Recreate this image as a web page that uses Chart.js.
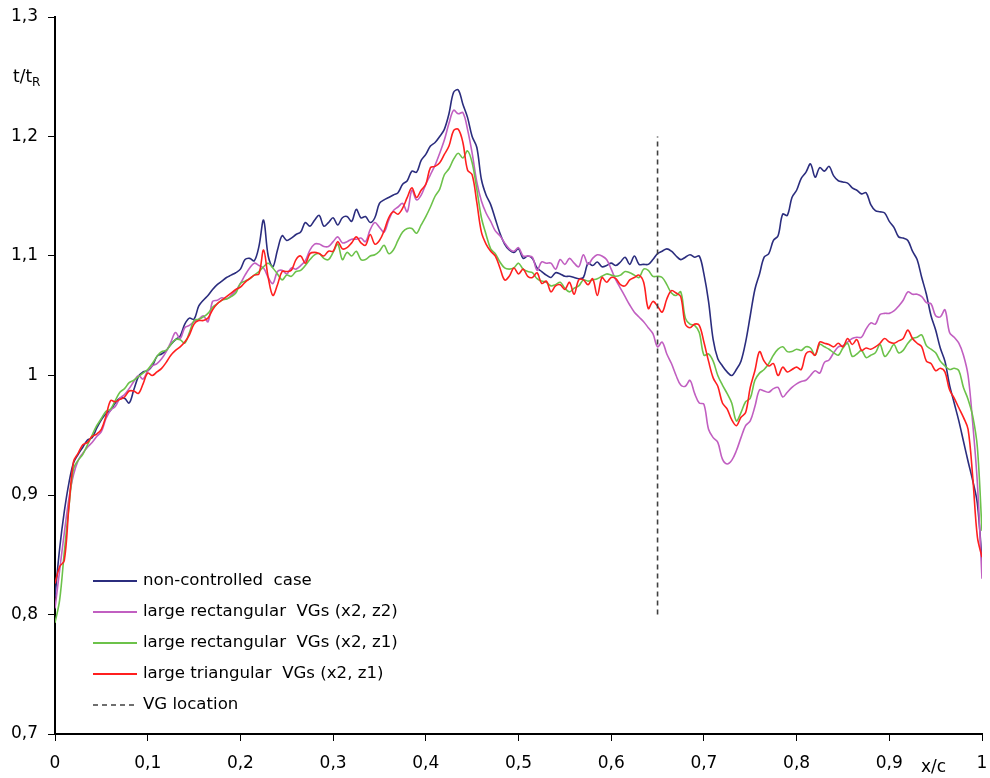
<!DOCTYPE html>
<html>
<head>
<meta charset="utf-8">
<script src="https://cdn.jsdelivr.net/npm/chart.js@4/dist/chart.umd.min.js"></script>
<style>
html,body{margin:0;padding:0;background:#fff;}
#wrap{width:990px;height:778px;}
</style>
</head>
<body>
<div id="wrap"><canvas id="c" width="990" height="778"></canvas></div>
<script>
// x/c positions (chord fraction)
const X_C = [0,0.005,0.01,0.015,0.02,0.025,0.03,0.035,0.04,0.045,0.05,0.055,0.06,0.065,0.07,0.075,0.08,0.085,0.09,0.095,
0.1,0.105,0.11,0.115,0.12,0.125,0.13,0.135,0.14,0.145,0.15,0.155,0.16,0.165,0.17,0.175,0.18,0.185,0.19,0.195,
0.2,0.205,0.21,0.215,0.22,0.225,0.23,0.235,0.24,0.245,0.25,0.255,0.26,0.265,0.27,0.275,0.28,0.285,0.29,0.295,
0.3,0.305,0.31,0.315,0.32,0.325,0.33,0.335,0.34,0.345,0.35,0.355,0.36,0.365,0.37,0.375,0.38,0.385,0.39,0.395,
0.4,0.405,0.41,0.415,0.42,0.425,0.43,0.435,0.44,0.445,0.45,0.455,0.46,0.465,0.47,0.475,0.48,0.485,0.49,0.495,
0.5,0.505,0.51,0.515,0.52,0.525,0.53,0.535,0.54,0.545,0.55,0.555,0.56,0.565,0.57,0.575,0.58,0.585,0.59,0.595,
0.6,0.605,0.61,0.615,0.62,0.625,0.63,0.635,0.64,0.645,0.65,0.655,0.66,0.665,0.67,0.675,0.68,0.685,0.69,0.695,
0.7,0.705,0.71,0.715,0.72,0.725,0.73,0.735,0.74,0.745,0.75,0.755,0.76,0.765,0.77,0.775,0.78,0.785,0.79,0.795,
0.8,0.805,0.81,0.815,0.82,0.825,0.83,0.835,0.84,0.845,0.85,0.855,0.86,0.865,0.87,0.875,0.88,0.885,0.89,0.895,
0.9,0.905,0.91,0.915,0.92,0.925,0.93,0.935,0.94,0.945,0.95,0.955,0.96,0.965,0.97,0.975,0.98,0.985,0.99,0.995,1];

// t/tR : non-controlled case
const NON_CONTROLLED = [0.815,0.855,0.886,0.91,0.927,0.934,0.94,0.946,0.948,0.956,
0.963,0.968,0.971,0.977,0.981,0.981,0.977,0.988,0.999,1.003,
1.004,1.008,1.016,1.018,1.021,1.026,1.03,1.033,1.043,1.048,
1.047,1.058,1.063,1.067,1.072,1.076,1.079,1.082,1.084,1.086,
1.089,1.097,1.098,1.096,1.108,1.13,1.1,1.091,1.105,1.117,
1.113,1.115,1.118,1.12,1.128,1.125,1.13,1.134,1.125,1.128,
1.132,1.126,1.132,1.133,1.129,1.139,1.132,1.133,1.128,1.132,
1.144,1.147,1.149,1.151,1.153,1.16,1.163,1.171,1.17,1.18,
1.185,1.192,1.195,1.2,1.206,1.219,1.237,1.239,1.227,1.216,
1.2,1.191,1.164,1.151,1.143,1.131,1.119,1.11,1.105,1.103,
1.106,1.098,1.1,1.098,1.09,1.087,1.084,1.082,1.086,1.085,
1.083,1.083,1.082,1.081,1.082,1.094,1.092,1.095,1.091,1.092,
1.094,1.092,1.095,1.099,1.093,1.1,1.093,1.093,1.093,1.097,
1.102,1.104,1.106,1.104,1.1,1.097,1.099,1.101,1.099,1.1,
1.085,1.062,1.03,1.014,1.008,1.003,1.0,1.005,1.012,1.028,
1.05,1.072,1.085,1.099,1.102,1.113,1.117,1.135,1.134,1.149,
1.155,1.165,1.17,1.177,1.166,1.174,1.171,1.175,1.167,1.163,
1.162,1.161,1.157,1.155,1.152,1.153,1.143,1.138,1.137,1.136,
1.129,1.124,1.116,1.115,1.113,1.104,1.097,1.082,1.068,1.05,
1.038,1.023,1.012,0.992,0.977,0.962,0.945,0.928,0.912,0.893,0.845];

// t/tR : large rectangular VGs (x2, z2)
const RECT_X2_Z2 = [0.805,0.837,0.868,0.897,0.917,0.929,0.935,0.94,0.944,0.949,
0.953,0.964,0.971,0.974,0.981,0.984,0.989,0.995,1.0,0.997,
1.004,1.008,1.01,1.014,1.02,1.028,1.036,1.031,1.04,1.042,
1.045,1.047,1.05,1.045,1.062,1.063,1.065,1.064,1.067,1.071,
1.077,1.084,1.09,1.094,1.092,1.09,1.082,1.077,1.087,1.088,
1.085,1.09,1.089,1.092,1.096,1.105,1.11,1.11,1.108,1.108,
1.112,1.116,1.111,1.112,1.114,1.114,1.115,1.112,1.122,1.128,
1.124,1.12,1.13,1.138,1.141,1.144,1.137,1.155,1.147,1.151,
1.16,1.168,1.176,1.186,1.197,1.211,1.222,1.219,1.22,1.206,
1.186,1.162,1.146,1.136,1.129,1.121,1.117,1.111,1.106,1.104,
1.107,1.1,1.1,1.099,1.088,1.095,1.094,1.094,1.089,1.097,
1.093,1.098,1.094,1.091,1.101,1.093,1.098,1.101,1.1,1.097,
1.089,1.08,1.073,1.066,1.059,1.053,1.049,1.045,1.04,1.035,
1.024,1.028,1.018,1.01,1.0,0.992,0.991,0.996,0.985,0.977,
0.976,0.955,0.948,0.944,0.93,0.926,0.929,0.937,0.948,0.958,
0.962,0.974,0.988,0.987,0.986,0.989,0.99,0.982,0.986,0.99,
0.993,0.995,0.996,1.0,1.004,1.002,1.011,1.013,1.019,1.024,
1.025,1.028,1.031,1.032,1.032,1.039,1.044,1.043,1.051,1.052,
1.052,1.054,1.058,1.063,1.07,1.068,1.068,1.066,1.061,1.06,
1.05,1.049,1.055,1.036,1.032,1.027,1.017,1.0,0.96,0.91,0.83];

// t/tR : large rectangular VGs (x2, z1)
const RECT_X2_Z1 = [0.793,0.812,0.852,0.89,0.922,0.929,0.934,0.942,0.95,0.958,
0.964,0.97,0.972,0.979,0.986,0.989,0.994,0.996,0.999,1.002,
1.005,1.01,1.016,1.02,1.021,1.026,1.03,1.03,1.027,1.036,
1.046,1.047,1.049,1.052,1.057,1.06,1.063,1.064,1.066,1.069,
1.077,1.079,1.081,1.084,1.087,1.091,1.094,1.09,1.085,1.08,
1.084,1.083,1.087,1.088,1.092,1.097,1.101,1.102,1.098,1.097,
1.103,1.11,1.097,1.103,1.1,1.104,1.097,1.097,1.1,1.101,
1.104,1.109,1.102,1.105,1.113,1.12,1.123,1.123,1.119,1.126,
1.133,1.141,1.15,1.156,1.168,1.173,1.181,1.186,1.182,1.188,
1.178,1.156,1.132,1.118,1.106,1.102,1.095,1.09,1.089,1.09,
1.094,1.089,1.087,1.086,1.081,1.079,1.078,1.075,1.076,1.078,
1.073,1.07,1.073,1.075,1.08,1.079,1.08,1.081,1.083,1.085,
1.084,1.083,1.084,1.087,1.086,1.084,1.082,1.089,1.088,1.083,
1.083,1.082,1.076,1.069,1.067,1.07,1.048,1.043,1.042,1.036,
1.017,1.018,1.012,1.0,0.992,0.985,0.977,0.962,0.969,0.978,
0.981,0.996,1.002,1.005,1.01,1.017,1.022,1.024,1.02,1.02,
1.022,1.021,1.024,1.023,1.017,1.026,1.024,1.022,1.019,1.017,
1.023,1.027,1.016,1.018,1.021,1.015,1.017,1.019,1.026,1.016,
1.02,1.026,1.019,1.021,1.027,1.031,1.032,1.034,1.025,1.022,
1.019,1.012,1.008,1.005,1.006,1.004,0.99,0.98,0.966,0.94,0.87];

// t/tR : large triangular VGs (x2, z1)
const TRI_X2_Z1 = [0.826,0.84,0.845,0.89,0.928,0.935,0.942,0.944,0.949,0.951,
0.955,0.966,0.979,0.978,0.98,0.982,0.987,0.987,0.985,0.993,
1.002,1.0,1.003,1.006,1.011,1.017,1.021,1.024,1.028,1.034,
1.043,1.046,1.046,1.048,1.055,1.06,1.063,1.066,1.069,1.072,
1.074,1.078,1.081,1.084,1.085,1.105,1.082,1.067,1.076,1.087,
1.087,1.088,1.097,1.1,1.094,1.102,1.103,1.102,1.1,1.104,
1.104,1.112,1.106,1.107,1.111,1.116,1.111,1.109,1.118,1.11,
1.113,1.121,1.132,1.137,1.135,1.14,1.149,1.157,1.149,1.155,
1.16,1.174,1.175,1.178,1.185,1.192,1.205,1.206,1.195,1.172,
1.168,1.145,1.12,1.11,1.104,1.1,1.09,1.08,1.083,1.09,
1.085,1.089,1.083,1.082,1.086,1.077,1.079,1.07,1.075,1.076,
1.072,1.078,1.068,1.08,1.08,1.076,1.081,1.067,1.082,1.078,
1.082,1.081,1.076,1.075,1.08,1.082,1.084,1.078,1.056,1.062,
1.058,1.053,1.064,1.071,1.069,1.066,1.043,1.04,1.043,1.042,
1.028,1.012,0.998,0.991,0.977,0.972,0.963,0.958,0.965,0.969,
0.99,1.004,1.02,1.012,1.008,1.01,1.0,1.007,1.003,1.005,
1.007,1.005,1.018,1.02,1.017,1.028,1.027,1.026,1.024,1.027,
1.024,1.031,1.026,1.03,1.021,1.023,1.022,1.024,1.027,1.031,
1.028,1.027,1.029,1.031,1.038,1.031,1.027,1.024,1.012,1.01,
1.004,1.006,1.003,0.988,0.981,0.973,0.965,0.955,0.915,0.865,0.848];

// VG location marker
const VG_X = [0.65, 0.65];
const VG_Y = [0.8, 1.2];

const SERIES_NAMES = ['non-controlled  case','large rectangular  VGs (x2, z2)','large rectangular  VGs (x2, z1)','large triangular  VGs (x2, z1)','VG location'];
const X_TICKS = [0,0.1,0.2,0.3,0.4,0.5,0.6,0.7,0.8,0.9,1];
const Y_TICKS = [0.7,0.8,0.9,1,1.1,1.2,1.3];

const COLORS = ['#2b2d7e','#c15fc1','#6cc24a','#ff1f1f','#404040'];
const FONT = '"DejaVu Sans", Verdana, sans-serif';

function pts(xs, ys){ return xs.map((x,i)=>({x:x, y:ys[i]})); }
function fmt(v){
  const r = Math.round(v*10)/10;
  if (Math.abs(r - Math.round(r)) < 1e-9) return String(Math.round(r));
  return r.toFixed(1).replace('.', ',');
}

const overlay = {
  id: 'overlay',
  afterDraw(chart){
    const ctx = chart.ctx, a = chart.chartArea;
    ctx.save();
    // legend
    [0,1,2,3,4].forEach(i=>{
      const y = a.bottom - 153 + i*31;
      ctx.beginPath();
      ctx.strokeStyle = COLORS[i];
      ctx.lineWidth = i===4 ? 1.5 : 2;
      ctx.setLineDash(i===4 ? [5,4] : []);
      ctx.moveTo(a.left + 38, y);
      ctx.lineTo(a.left + 82, y);
      ctx.stroke();
      ctx.setLineDash([]);
      ctx.fillStyle = '#000';
      ctx.font = '16.6px ' + FONT;
      ctx.textBaseline = 'middle';
      ctx.textAlign = 'left';
      ctx.fillText(SERIES_NAMES[i], a.left + 88, y);
    });
    // axis titles
    ctx.fillStyle = '#000';
    ctx.textBaseline = 'alphabetic';
    ctx.font = '17px ' + FONT;
    ctx.fillText('t/t', 13, 82);
    const w = ctx.measureText('t/t').width;
    ctx.font = '12px ' + FONT;
    ctx.fillText('R', 13 + w, 86);
    ctx.font = '17px ' + FONT;
    ctx.textBaseline = 'middle';
    ctx.fillText('x/c', 921, 768);
    ctx.restore();
  }
};

const lineDs = (label, ys, color, order) => ({
  label, data: pts(X_C, ys), borderColor: color, backgroundColor: color,
  borderWidth: 1.6, pointRadius: 0, tension: 0.35, fill: false, order
});

new Chart(document.getElementById('c'), {
  type: 'line',
  data: {
    datasets: [
      lineDs(SERIES_NAMES[0], NON_CONTROLLED, COLORS[0], 4),
      lineDs(SERIES_NAMES[1], RECT_X2_Z2, COLORS[1], 3),
      lineDs(SERIES_NAMES[2], RECT_X2_Z1, COLORS[2], 2),
      lineDs(SERIES_NAMES[3], TRI_X2_Z1, COLORS[3], 1),
      { label: SERIES_NAMES[4], data: pts(VG_X, VG_Y), borderColor: COLORS[4],
        borderWidth: 1.6, borderDash: [5,4], pointRadius: 0, tension: 0, order: 0 }
    ]
  },
  options: {
    responsive: false, animation: false, devicePixelRatio: 1,
    layout: { padding: { left: 0, top: 17, right: 8, bottom: 0 } },
    plugins: { legend: { display: false }, tooltip: { enabled: false } },
    scales: {
      x: {
        type: 'linear', min: 0, max: 1,
        afterBuildTicks: s => { s.ticks = X_TICKS.map(v=>({value:v})); },
        afterFit: s => { s.height = 44; s.paddingRight = 0; s.paddingLeft = 0; },
        grid: { drawOnChartArea: false, drawTicks: true, tickLength: 7, color: '#000', lineWidth: 1 },
        border: { display: true, color: '#000', width: 2 },
        ticks: { color: '#000', font: { family: FONT, size: 17 }, padding: 12, maxRotation: 0, autoSkip: false,
                 callback: v => fmt(v) }
      },
      y: {
        type: 'linear', min: 0.7, max: 1.3,
        afterBuildTicks: s => { s.ticks = Y_TICKS.map(v=>({value:v})); },
        afterFit: s => { s.width = 55; s.paddingTop = 0; s.paddingBottom = 0; },
        grid: { drawOnChartArea: false, drawTicks: true, tickLength: 7, color: '#000', lineWidth: 1 },
        border: { display: true, color: '#000', width: 2 },
        ticks: { color: '#000', font: { family: FONT, size: 17 }, padding: 10, autoSkip: false,
                 callback: v => fmt(v) }
      }
    }
  },
  plugins: [overlay]
});
</script>
</body>
</html>
